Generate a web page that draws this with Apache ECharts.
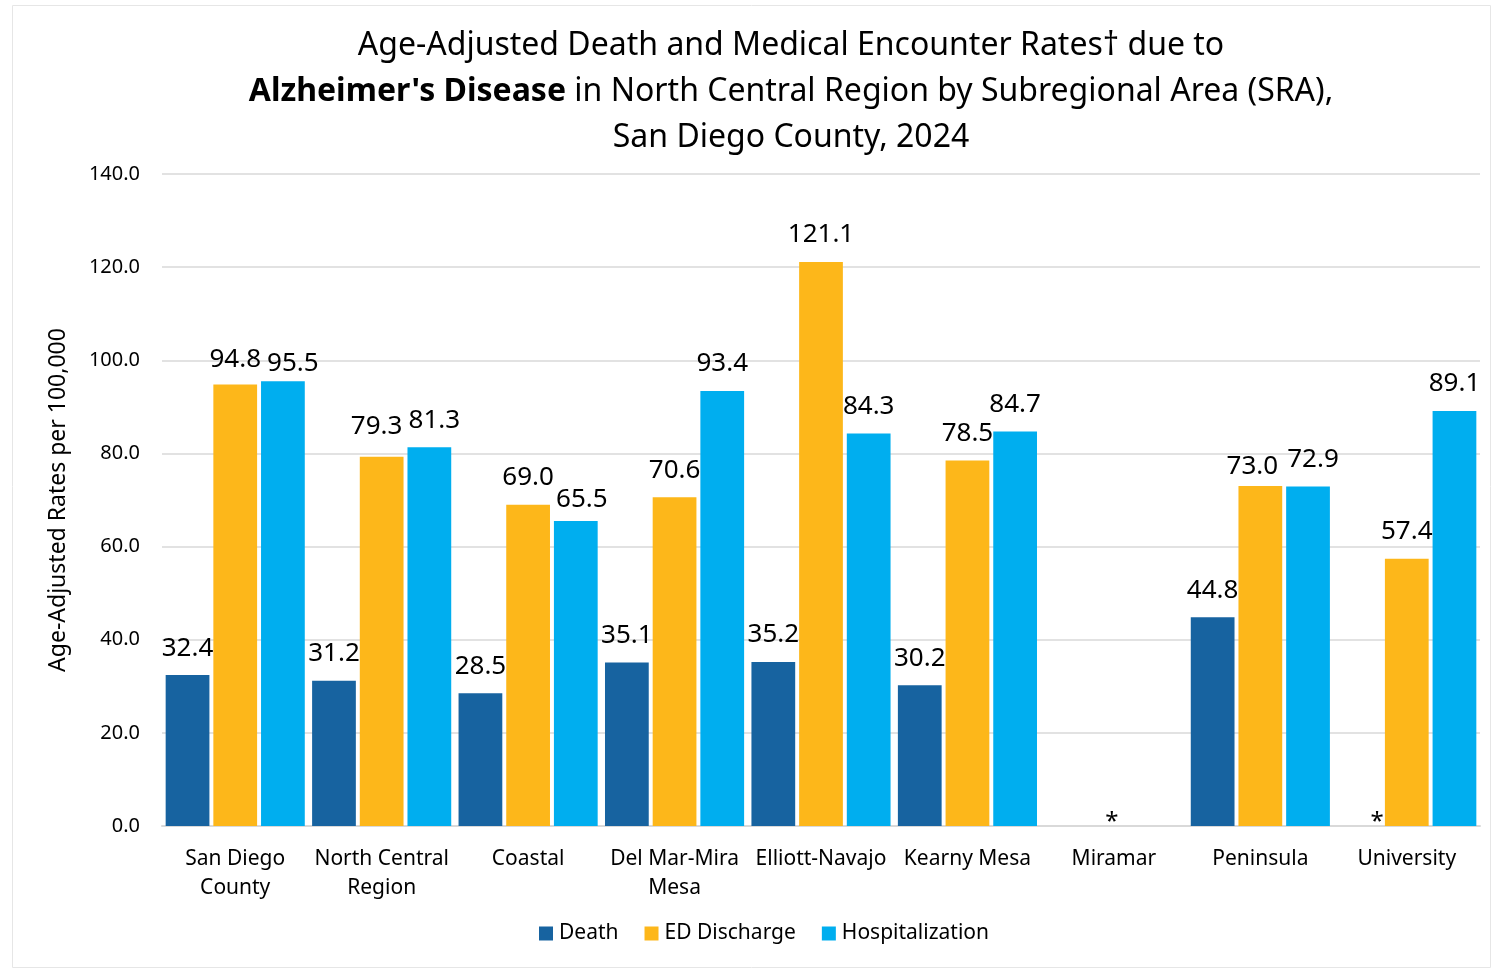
<!DOCTYPE html>
<html><head><meta charset="utf-8">
<script src="https://cdn.jsdelivr.net/npm/echarts@6/dist/echarts.min.js"></script>
<style>html,body{margin:0;padding:0;background:#fff}#c{width:1498px;height:970px}</style>
</head><body><div id="c"></div>
<script>
const categories = ['San Diego\nCounty', 'North Central\nRegion', 'Coastal', 'Del Mar-Mira\nMesa', 'Elliott-Navajo', 'Kearny Mesa', 'Miramar', 'Peninsula', 'University'];
const deathValues = [32.4, 31.2, 28.5, 35.1, 35.2, 30.2, null, 44.8, 0];
const edValues = [94.8, 79.3, 69.0, 70.6, 121.1, 78.5, 0, 73.0, 57.4];
const hospValues = [95.5, 81.3, 65.5, 93.4, 84.3, 84.7, null, 72.9, 89.1];
const yTicks = [0, 20, 40, 60, 80, 100, 120, 140];
const seriesNames = ['Death', 'ED Discharge', 'Hospitalization'];
const colors = ['#1763A0', '#FDB71A', '#00AEEF'];
const suppressed = { Death: [8], 'ED Discharge': [6] };
// label nudges [dx, dy] (style only) to avoid overlaps, as in the reference
const labelShift = {
  'ED Discharge': { 0: [0, 2], 1: [-5, -3], 7: [-8, 8] },
  Hospitalization: { 0: [10, 9], 1: [5, 0], 2: [6, 6], 7: [5, 0] }
};

const FONT = '"Noto Sans", "Open Sans", sans-serif';
const chart = echarts.init(document.getElementById('c'));

function mkData(name, vals) {
  return vals.map((v, i) => {
    if (suppressed[name] && suppressed[name].includes(i)) {
      return { value: 0, label: { formatter: '*', fontSize: 24, distance: 2, offset: name === 'Death' ? [18, 10] : [-2, 10] } };
    }
    const off = labelShift[name] && labelShift[name][i];
    if (off && v != null) return { value: v, label: { offset: off } };
    return v;
  });
}

const seriesVals = [deathValues, edValues, hospValues];
chart.setOption({
  backgroundColor: '#fff',
  animation: false,
  graphic: [{ type: 'rect', shape: { x: 12.5, y: 5.5, width: 1478, height: 962 }, style: { fill: 'none', stroke: '#e6e6e6', lineWidth: 1 }, silent: true }],
  title: {
    text: '{n|Age-Adjusted Death and Medical Encounter Rates† due to}\n{b|Alzheimer\'s Disease}{n| in North Central Region by Subregional Area (SRA),}\n{n|San Diego County, 2024}',
    left: 786, top: 18, textAlign: 'center',
    textStyle: {
      fontWeight: 'normal',
      rich: {
        n: { fontFamily: FONT, fontSize: 32, color: '#000', fontWeight: 'normal', lineHeight: 46 },
        b: { fontFamily: FONT, fontSize: 32, color: '#000', fontWeight: 'bold', lineHeight: 46 }
      }
    }
  },
  legend: {
    data: seriesNames, bottom: 21, left: 534,
    icon: 'rect', itemWidth: 14, itemHeight: 14, itemGap: 26,
    textStyle: { fontFamily: FONT, fontSize: 21, color: '#000', padding: [0, 0, 0, 1] }
  },
  grid: { left: 162, right: 18, top: 174, bottom: 144, containLabel: false },
  xAxis: {
    type: 'category', data: categories,
    axisLine: { lineStyle: { color: '#d9d9d9', width: 2 } },
    axisTick: { show: false },
    axisLabel: { fontFamily: FONT, fontSize: 21, color: '#000', lineHeight: 29, margin: 19, interval: 0 }
  },
  yAxis: {
    type: 'value', min: yTicks[0], max: yTicks[yTicks.length - 1], interval: 20,
    name: 'Age-Adjusted Rates per 100,000', nameLocation: 'middle', nameGap: 92, nameRotate: 90,
    nameTextStyle: { fontFamily: FONT, fontSize: 23, color: '#000' },
    axisLine: { show: false }, axisTick: { show: false },
    axisLabel: { fontFamily: FONT, fontSize: 20, color: '#000', margin: 22, formatter: v => v.toFixed(1) },
    splitLine: { lineStyle: { color: '#d9d9d9', width: 1.5 } }
  },
  series: seriesNames.map((name, k) => ({
    name, type: 'bar', data: mkData(name, seriesVals[k]),
    itemStyle: { color: colors[k] },
    barGap: '9%', barCategoryGap: '5%',
    label: {
      show: true, position: 'top', distance: 14,
      fontFamily: FONT, fontSize: 26, color: '#000',
      formatter: p => (p.value == null ? '' : p.value.toFixed(1))
    }
  }))
});
</script></body></html>
